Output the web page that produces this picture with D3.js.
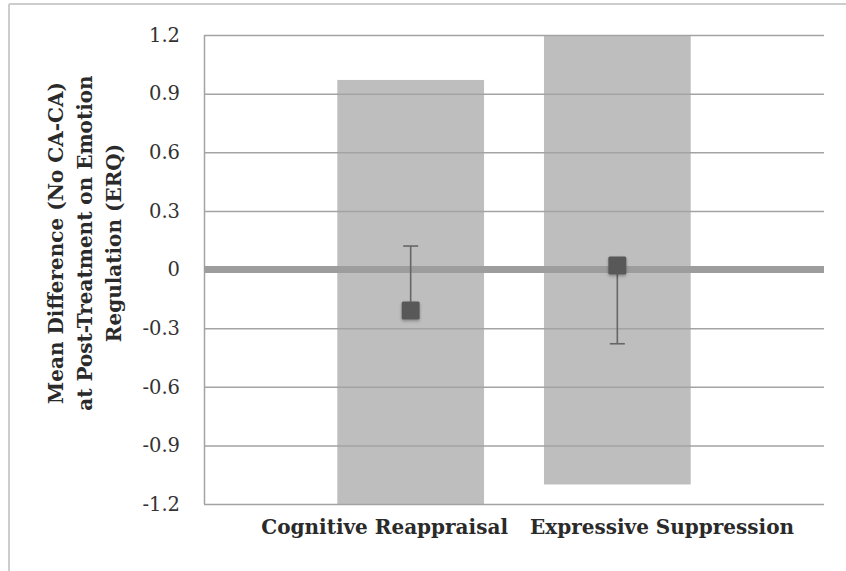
<!DOCTYPE html>
<html>
<head>
<meta charset="utf-8">
<script src="https://cdn.jsdelivr.net/npm/d3@7"></script>
<style>
  html, body { margin: 0; padding: 0; background: #fff; }
  svg { display: block; }
</style>
</head>
<body>
<svg id="chart" width="846" height="571"></svg>
<script>
// ---- data ----
const categories = ["Cognitive Reappraisal", "Expressive Suppression"];
const catPositions = [1, 2];
const barLow = [-1.2, -1.1];
const barHigh = [0.97, 1.2];
const meanDiff = [-0.21, 0.02];
const whiskerEnd = [0.12, -0.38];
const yTicks = [-1.2, -0.9, -0.6, -0.3, 0, 0.3, 0.6, 0.9, 1.2];
const yTickLabels = ["-1.2", "-0.9", "-0.6", "-0.3", "0", "0.3", "0.6", "0.9", "1.2"];
const yTitleLines = ["Mean Difference (No CA-CA)", "at Post-Treatment on Emotion", "Regulation (ERQ)"];

// ---- layout ----
const W = 846, H = 571;
const plot = { left: 204, right: 824, top: 35, bottom: 504 };
const svg = d3.select("#chart");

const y = d3.scaleLinear().domain([-1.2, 1.2]).range([plot.bottom, plot.top]);
const x = d3.scaleLinear().domain([0, 3]).range([plot.left, plot.right]);
const barW = x(0.71) - x(0);

// outer frame (top + left edges)
svg.append("line").attr("x1", 9).attr("x2", W).attr("y1", 4).attr("y2", 4)
  .attr("stroke", "#cdcdcd").attr("stroke-width", 2);
svg.append("line").attr("x1", 9).attr("x2", 9).attr("y1", 4).attr("y2", H)
  .attr("stroke", "#cdcdcd").attr("stroke-width", 2);

// bars
svg.append("g").selectAll("rect").data(categories).join("rect")
  .attr("x", (d, i) => x(catPositions[i]) - barW / 2)
  .attr("width", barW)
  .attr("y", (d, i) => y(barHigh[i]))
  .attr("height", (d, i) => y(barLow[i]) - y(barHigh[i]))
  .attr("fill", "#bfbebf");

// gridlines (drawn over bars)
const yAxis = d3.axisLeft(y).tickValues(yTicks)
  .tickFormat((d, i) => yTickLabels[i])
  .tickSize(-(plot.right - plot.left)).tickPadding(24);
const ga = svg.append("g").attr("transform", `translate(${plot.left},0)`).call(yAxis);
ga.select(".domain").attr("stroke", "#a3a3a3").attr("stroke-width", 1.5)
  .attr("d", `M0.5,${plot.top}V${plot.bottom}`);
ga.selectAll(".tick line").attr("stroke", "#a3a3a3").attr("stroke-width", 1.5);
ga.selectAll(".tick text")
  .attr("font-family", "'DejaVu Serif', serif")
  .attr("font-size", 19.5)
  .attr("fill", "#333")
  .attr("x", -24);

// zero line
svg.append("line")
  .attr("x1", plot.left).attr("x2", plot.right)
  .attr("y1", y(0)).attr("y2", y(0))
  .attr("stroke", "#9c9d9c").attr("stroke-width", 7);

// error whiskers
const eg = svg.append("g").attr("stroke", "#666").attr("stroke-width", 1.6);
eg.selectAll("line.stem").data(categories).join("line").attr("class", "stem")
  .attr("x1", (d, i) => x(catPositions[i])).attr("x2", (d, i) => x(catPositions[i]))
  .attr("y1", (d, i) => y(meanDiff[i])).attr("y2", (d, i) => y(whiskerEnd[i]));
eg.selectAll("line.cap").data(categories).join("line").attr("class", "cap")
  .attr("x1", (d, i) => x(catPositions[i]) - 7.5).attr("x2", (d, i) => x(catPositions[i]) + 7.5)
  .attr("y1", (d, i) => y(whiskerEnd[i])).attr("y2", (d, i) => y(whiskerEnd[i]));

// markers
const defs = svg.append("defs");
const f = defs.append("filter").attr("id", "sh").attr("x", "-50%").attr("y", "-50%").attr("width", "200%").attr("height", "200%");
f.append("feDropShadow").attr("dx", 0).attr("dy", 1.5).attr("stdDeviation", 1.5)
  .attr("flood-color", "#000").attr("flood-opacity", 0.3);
const sq = 18;
svg.append("g").selectAll("rect").data(categories).join("rect")
  .attr("x", (d, i) => x(catPositions[i]) - sq / 2)
  .attr("y", (d, i) => y(meanDiff[i]) - sq / 2)
  .attr("width", sq).attr("height", sq).attr("rx", 1.5)
  .attr("fill", "#595959").attr("filter", "url(#sh)");

// category labels
const mid = x(1.5);
svg.append("g").selectAll("text").data(categories).join("text")
  .attr("x", (d, i) => i === 0 ? mid - 6 : mid + 16)
  .attr("y", 534)
  .attr("text-anchor", (d, i) => i === 0 ? "end" : "start")
  .attr("font-family", "'DejaVu Serif', serif")
  .attr("font-weight", "bold")
  .attr("font-size", 20)
  .attr("fill", "#2a2a2a")
  .text(d => d);

// y axis title
const yt = svg.append("text")
  .attr("transform", `translate(0,243) rotate(-90)`)
  .attr("text-anchor", "middle")
  .attr("font-family", "'DejaVu Serif', serif")
  .attr("font-weight", "bold")
  .attr("font-size", 20)
  .attr("fill", "#2a2a2a");
yt.selectAll("tspan").data(yTitleLines).join("tspan")
  .attr("x", 0)
  .attr("y", (d, i) => 63 + i * 29)
  .text(d => d);
</script>
</body>
</html>
